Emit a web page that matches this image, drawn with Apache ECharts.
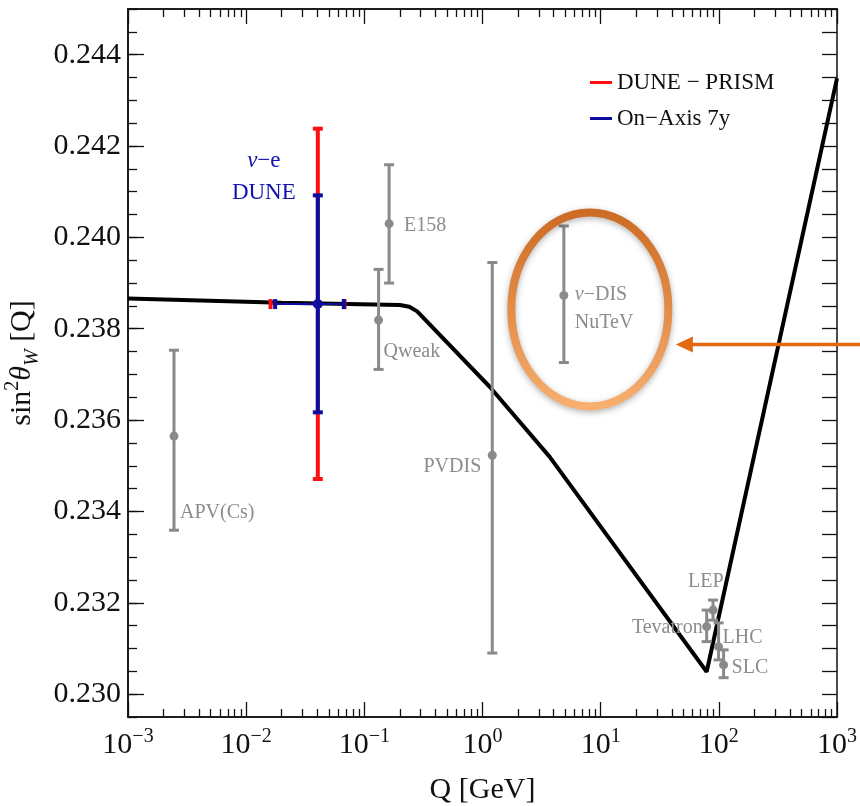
<!DOCTYPE html>
<html>
<head>
<meta charset="utf-8">
<script src="https://cdn.jsdelivr.net/npm/echarts@6/dist/echarts.min.js"></script>
<style>
html, body { margin: 0; padding: 0; background: #fff; }
#main { width: 860px; height: 806px; }
</style>
</head>
<body>
<div id="main"></div>
<script>
// running sin^2 theta_W curve, Q in GeV
var curveQ = [0.001, 0.02, 0.2, 0.24, 0.28, 1.15, 3.69, 78.9, 1000];
var curveS = [0.23866, 0.23857, 0.23852, 0.23848, 0.23838, 0.23673, 0.23520, 0.23049, 0.24348];

// existing measurements (gray)
var expNames = ['APV(Cs)', 'Qweak', 'E158', 'PVDIS', 'ν−DIS\nNuTeV', 'LEP', 'Tevatron', 'LHC', 'SLC'];
var expQ     = [0.00245, 0.132, 0.162, 1.21, 4.88, 89.3, 78.9, 99.5, 109.7];
var expVal   = [0.23565, 0.23819, 0.24030, 0.23523, 0.23873, 0.23184, 0.23148, 0.23104, 0.23064];
var expLow   = [0.23359, 0.23711, 0.23900, 0.23090, 0.23726, 0.23162, 0.23115, 0.23075, 0.23036];
var expHigh  = [0.23753, 0.23930, 0.24159, 0.23945, 0.24025, 0.23206, 0.23184, 0.23156, 0.23097];

// DUNE nu-e projections
var duneQ = 0.0404;
var duneVal = 0.23854;
var prismLow = 0.23471, prismHigh = 0.24238;
var prismQLow = 0.01607, prismQHigh = 0.068;
var axisLow = 0.23617, axisHigh = 0.24092;
var axisQLow = 0.01758, axisQHigh = 0.0670;

// ticks
var xDecades = [0.001, 0.01, 0.1, 1, 10, 100, 1000];
var xMinorMantissa = [2, 3, 4, 5, 6, 7, 8, 9];
var yLabels = [0.230, 0.232, 0.234, 0.236, 0.238, 0.240, 0.242, 0.244];
var yMin = 0.2295, yMax = 0.245;

var xMinor = [];
xDecades.slice(0, -1).forEach(function (d) {
    xMinorMantissa.forEach(function (m) { xMinor.push(+(d * m).toPrecision(3)); });
});
var yMinor = [];
for (var k = 0; k <= 31; k++) yMinor.push(+(yMin + k * 0.0005).toFixed(4));

// label placement next to each gray point: [dx, dy, align]
var labelPlace = {
    'APV(Cs)': [6, 77, 'left'],
    'Qweak': [5, 32, 'left'],
    'E158': [15, 2, 'left'],
    'PVDIS': [-11, 11, 'right'],
    'ν−DIS\nNuTeV': [11, 13, 'left'],
    'LEP': [-25, -28, 'left'],
    'Tevatron': [-4, 1, 'right'],
    'LHC': [4, -9, 'left'],
    'SLC': [8, 3, 'left']
};

var serif = 'Liberation Serif';
var gray = '#8a8a8a';

// italic nu for the text marks
function nuRich(s) {
    return s.split('\n').map(function (line) {
        return line.replace(/^ν(.*)$/, '{i|ν}{t|$1}').replace(/^([^{].*)$/, '{t|$1}');
    }).join('\n');
}

var chart = echarts.init(document.getElementById('main'));

function logAxis(pos, ticks, len, labels) {
    return {
        type: 'log', logBase: 10, position: pos, min: 0.001, max: 1000,
        axisLine: { show: true, lineStyle: { color: '#111', width: 1.5 } },
        axisTick: { show: true, inside: true, length: len, customValues: ticks, lineStyle: { color: '#111', width: 1.3 } },
        axisLabel: labels ? {
            show: true, customValues: xDecades, margin: 10,
            formatter: function (v) {
                var e = Math.round(Math.log10(v));
                return '{b|10}{s|' + (e < 0 ? '−' + (-e) : e) + '}';
            },
            rich: {
                b: { fontFamily: serif, fontSize: 30, color: '#111', lineHeight: 36 },
                s: { fontFamily: serif, fontSize: 20, color: '#111', lineHeight: 22, verticalAlign: 'top' }
            }
        } : { show: false },
        splitLine: { show: false }
    };
}

function valAxis(pos, ticks, len, labels) {
    return {
        type: 'value', position: pos, min: yMin, max: yMax,
        axisLine: { show: true, lineStyle: { color: '#111', width: 1.5 } },
        axisTick: { show: true, inside: true, length: len, customValues: ticks, lineStyle: { color: '#111', width: 1.3 } },
        axisLabel: labels ? {
            show: true, customValues: yLabels, margin: 7,
            color: '#111', fontFamily: serif, fontSize: 30,
            formatter: function (v) { return v.toFixed(3); }
        } : { show: false },
        splitLine: { show: false }
    };
}

var xBottom = logAxis('bottom', xDecades, 15, true);
xBottom.name = 'Q [GeV]';
xBottom.nameLocation = 'middle';
xBottom.nameGap = 58;
xBottom.nameTextStyle = { fontFamily: serif, fontSize: 30, color: '#111' };

var yLeft = valAxis('left', yLabels, 16, true);
yLeft.name = '{n|sin}{sup|2}{it|θ}{sub|W}{n| [Q]}';
yLeft.nameLocation = 'middle';
yLeft.nameRotate = 90;
yLeft.nameGap = 84;
yLeft.nameTextStyle = {
    rich: {
        n: { fontFamily: serif, fontSize: 30, color: '#111', lineHeight: 40 },
        it: { fontFamily: serif, fontSize: 30, fontStyle: 'italic', color: '#111', lineHeight: 40 },
        sup: { fontFamily: serif, fontSize: 20, color: '#111', lineHeight: 22, verticalAlign: 'top' },
        sub: { fontFamily: serif, fontSize: 20, fontStyle: 'italic', color: '#111', lineHeight: 22, verticalAlign: 'bottom' }
    }
};

var expData = expQ.map(function (q, i) { return [q, expVal[i], expLow[i], expHigh[i]]; });

function renderExp(params, api) {
    var i = params.dataIndex;
    var p = api.coord([api.value(0), api.value(1)]);
    var lo = api.coord([api.value(0), api.value(2)]);
    var hi = api.coord([api.value(0), api.value(3)]);
    var cap = 5;
    var st = { stroke: gray, lineWidth: 3 };
    var pl = labelPlace[expNames[i]];
    var txt = { fill: '#8c8c8c', fontFamily: serif, fontSize: 20, lineHeight: 28 };
    return {
        type: 'group',
        children: [
            { type: 'line', shape: { x1: p[0], y1: lo[1], x2: p[0], y2: hi[1] }, style: st },
            { type: 'line', shape: { x1: p[0] - cap, y1: lo[1], x2: p[0] + cap, y2: lo[1] }, style: st },
            { type: 'line', shape: { x1: p[0] - cap, y1: hi[1], x2: p[0] + cap, y2: hi[1] }, style: st },
            { type: 'circle', shape: { cx: p[0], cy: p[1], r: 4.5 }, style: { fill: gray } },
            { type: 'text', x: p[0] + pl[0], y: p[1] + pl[1], style: {
                text: nuRich(expNames[i]), align: pl[2], verticalAlign: 'middle',
                rich: { t: txt, i: Object.assign({ fontStyle: 'italic' }, txt) } } }
        ]
    };
}

function duneRender(color, dot) {
    return function (params, api) {
        var p = api.coord([api.value(0), api.value(1)]);
        var lo = api.coord([api.value(0), api.value(2)]);
        var hi = api.coord([api.value(0), api.value(3)]);
        var ql = api.coord([api.value(4), api.value(1)]);
        var qh = api.coord([api.value(5), api.value(1)]);
        var st = { stroke: color, lineWidth: 4 };
        var cap = 5;
        var kids = [
            { type: 'line', shape: { x1: ql[0], y1: p[1], x2: qh[0], y2: p[1] }, style: { stroke: color, lineWidth: 2 } },
            { type: 'line', shape: { x1: ql[0], y1: p[1] - cap, x2: ql[0], y2: p[1] + cap }, style: st },
            { type: 'line', shape: { x1: qh[0], y1: p[1] - cap, x2: qh[0], y2: p[1] + cap }, style: st },
            { type: 'line', shape: { x1: p[0], y1: lo[1], x2: p[0], y2: hi[1] }, style: st },
            { type: 'line', shape: { x1: p[0] - cap, y1: lo[1], x2: p[0] + cap, y2: lo[1] }, style: st },
            { type: 'line', shape: { x1: p[0] - cap, y1: hi[1], x2: p[0] + cap, y2: hi[1] }, style: st }
        ];
        if (dot) kids.push({ type: 'circle', shape: { cx: p[0], cy: p[1], r: 5 }, style: { fill: color } });
        return { type: 'group', children: kids };
    };
}

var option = {
    backgroundColor: '#fff',
    animation: false,
    grid: { left: 128, right: 23, top: 9, bottom: 89, show: false, outerBoundsMode: 'none', containLabel: false },
    legend: {
        orient: 'vertical', left: 585, top: 66, itemGap: 13,
        itemWidth: 22, itemHeight: 3, icon: 'rect',
        textStyle: { fontFamily: serif, fontSize: 23, color: '#111' },
        data: ['DUNE − PRISM', 'On−Axis 7y']
    },
    xAxis: [
        xBottom,
        logAxis('bottom', xMinor, 8, false),
        logAxis('top', xDecades, 15, false),
        logAxis('top', xMinor, 8, false)
    ],
    yAxis: [
        yLeft,
        valAxis('left', yMinor, 9, false),
        valAxis('right', yMinor, 15, false)
    ],
    series: [
        {
            name: 'running', type: 'line', xAxisIndex: 0, yAxisIndex: 0, z: 2,
            data: curveQ.map(function (q, i) { return [q, curveS[i]]; }),
            showSymbol: false, lineStyle: { color: '#000', width: 4 }
        },
        {
            name: 'measurements', type: 'custom', xAxisIndex: 0, yAxisIndex: 0, z: 3,
            renderItem: renderExp, data: expData
        },
        {
            name: 'DUNE − PRISM', type: 'custom', xAxisIndex: 0, yAxisIndex: 0, z: 4,
            itemStyle: { color: '#ff1010' },
            renderItem: duneRender('#ff1010', false),
            data: [[duneQ, duneVal, prismLow, prismHigh, prismQLow, prismQHigh]]
        },
        {
            name: 'On−Axis 7y', type: 'custom', xAxisIndex: 0, yAxisIndex: 0, z: 5,
            itemStyle: { color: '#0c0c9e' },
            renderItem: duneRender('#0c0c9e', true),
            data: [[duneQ, duneVal, axisLow, axisHigh, axisQLow, axisQHigh]]
        }
    ]
};

chart.setOption(option);

// annotations: blue nu-e label, orange ellipse around NuTeV and arrow
var dp = chart.convertToPixel({ xAxisIndex: 0, yAxisIndex: 0 }, [duneQ, duneVal]);
var np = chart.convertToPixel({ xAxisIndex: 0, yAxisIndex: 0 }, [expQ[4], expVal[4]]);
var ex = np[0] + 26, ey = np[1] + 14;
var blueTxt = { fill: '#1212b0', fontFamily: serif, fontSize: 23, lineHeight: 32 };
chart.setOption({
    graphic: [
        { type: 'text', x: dp[0] - 54, y: dp[1] - 127, z: 10, style: {
            text: nuRich('ν−e\nDUNE'), align: 'center', verticalAlign: 'middle',
            rich: { t: blueTxt, i: Object.assign({ fontStyle: 'italic' }, blueTxt) } } },
        { type: 'ellipse', z: 10, shape: { cx: ex, cy: ey, rx: 78.5, ry: 97 }, style: {
            fill: null, lineWidth: 8,
            stroke: new echarts.graphic.LinearGradient(0, 0, 0, 1, [
                { offset: 0, color: '#cc6a22' }, { offset: 1, color: '#f8b070' }
            ]),
            shadowBlur: 6, shadowColor: 'rgba(0,0,0,0.3)', shadowOffsetY: 2 } },
        { type: 'line', z: 10, shape: { x1: 860, y1: ey + 35, x2: ex + 100, y2: ey + 35 },
          style: { stroke: '#e2690f', lineWidth: 3.5 } },
        { type: 'polygon', z: 10, shape: { points: [[ex + 86, ey + 35], [ex + 103, ey + 27], [ex + 103, ey + 43]] },
          style: { fill: '#e2690f' } }
    ]
});
</script>
</body>
</html>
